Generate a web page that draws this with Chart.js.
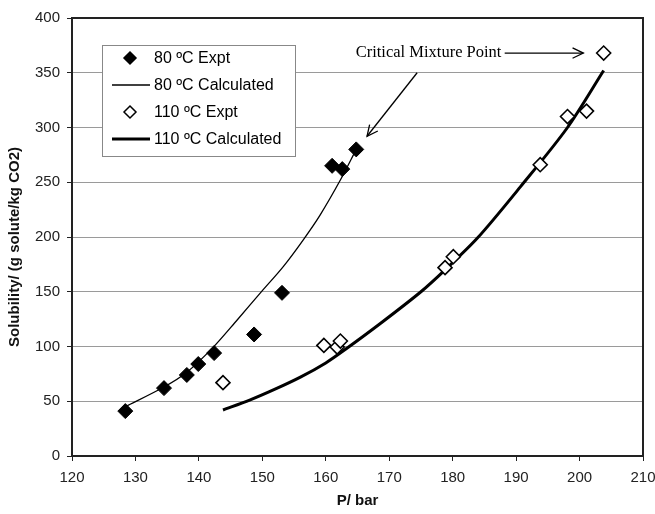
<!DOCTYPE html>
<html>
<head>
<meta charset="utf-8">
<script src="https://cdn.jsdelivr.net/npm/chart.js@4.4.1/dist/chart.umd.min.js"></script>
<style>
  html, body { margin: 0; padding: 0; background: #fff; }
  #wrap { width: 655px; height: 514px; position: relative; }
</style>
</head>
<body>
<div id="wrap"><canvas id="solChart"></canvas></div>
<script>
// P / bar and solubility values
const p80Expt = [128.4, 134.5, 138.1, 139.9, 142.4, 148.7, 153.1, 161.0, 162.6, 164.8];
const s80Expt = [41, 62, 74, 84, 94, 111, 149, 265, 262, 280];

const p80Calc = [128.4, 134.5, 138, 142.2, 146, 150, 153.3, 156.4, 159.1, 162.3, 164.8];
const s80Calc = [45, 63, 76, 99, 124, 151, 173, 197, 220, 252, 280];

const p110Expt = [143.8, 159.7, 161.8, 162.3, 178.8, 180.1, 193.8, 198.1, 201.1, 203.8];
const s110Expt = [67, 101, 99.5, 105, 172, 182, 266, 310, 315, 368];

const p110Calc = [143.8, 148, 152, 156, 160, 163, 168.6, 175, 178.8, 183.9, 190.7, 198.1, 203.8];
const s110Calc = [42, 51, 61, 72, 85, 97, 121, 150, 170, 199, 246, 300, 352];

const seriesNames = ["80 ºC Expt", "80 ºC Calculated", "110 ºC Expt", "110 ºC Calculated"];
const yTitle = "Solubility/ (g solute/kg CO2)";
const xTitle = "P/ bar";

// annotation: label and arrows, in data units
const noteText = "Critical Mixture Point";
const notePos = [176.2, 368];
const noteArrows = [
  [[174.4, 350], [166.5, 292]],
  [[188.2, 368], [200.6, 368]],
];

const toXY = (xs, ys) => xs.map((x, i) => ({ x, y: ys[i] }));

function arrowHead(ctx, x1, y1, x2, y2) {
  const ang = Math.atan2(y2 - y1, x2 - x1);
  const len = 12;
  const spread = 0.45;
  ctx.beginPath();
  ctx.moveTo(x2 - len * Math.cos(ang - spread), y2 - len * Math.sin(ang - spread));
  ctx.lineTo(x2, y2);
  ctx.lineTo(x2 - len * Math.cos(ang + spread), y2 - len * Math.sin(ang + spread));
  ctx.stroke();
}

const extrasPlugin = {
  id: "extras",
  afterDatasetsDraw(chart) {
    const { ctx, chartArea: a, scales } = chart;
    const sx = scales.x, sy = scales.y;
    ctx.save();

    // frame
    ctx.strokeStyle = "#222";
    ctx.lineWidth = 2;
    ctx.strokeRect(a.left, a.top, a.right - a.left, a.bottom - a.top);

    // y title, sits a bit below the middle like the original
    ctx.save();
    ctx.translate(15, (a.top + a.bottom) / 2 + 10);
    ctx.rotate(-Math.PI / 2);
    ctx.fillStyle = "#111";
    ctx.font = "bold 15px 'Liberation Sans', Arial, sans-serif";
    ctx.textAlign = "center";
    ctx.textBaseline = "middle";
    ctx.fillText(yTitle, 0, 0);
    ctx.restore();

    // note
    ctx.fillStyle = "#000";
    ctx.font = "16.5px 'Liberation Serif', 'Times New Roman', serif";
    ctx.textAlign = "center";
    ctx.textBaseline = "middle";
    ctx.fillText(noteText, sx.getPixelForValue(notePos[0]), sy.getPixelForValue(notePos[1]));
    ctx.strokeStyle = "#000";
    ctx.lineWidth = 1.3;
    noteArrows.forEach(([from, to]) => {
      const x1 = sx.getPixelForValue(from[0]), y1 = sy.getPixelForValue(from[1]);
      const x2 = sx.getPixelForValue(to[0]), y2 = sy.getPixelForValue(to[1]);
      ctx.beginPath();
      ctx.moveTo(x1, y1);
      ctx.lineTo(x2, y2);
      ctx.stroke();
      arrowHead(ctx, x1, y1, x2, y2);
    });

    // legend box
    const bx = a.left + 30, by = a.top + 27, bw = 193, bh = 111;
    ctx.fillStyle = "#fff";
    ctx.fillRect(bx, by, bw, bh);
    ctx.strokeStyle = "#888";
    ctx.lineWidth = 1;
    ctx.strokeRect(bx + 0.5, by + 0.5, bw, bh);
    ctx.font = "16px 'Liberation Sans', Arial, sans-serif";
    ctx.textAlign = "left";
    ctx.textBaseline = "middle";
    chart.data.datasets.forEach((ds, i) => {
      const ry = by + 13 + i * 27;
      const mx = bx + 28;
      if (ds.showLine) {
        ctx.strokeStyle = "#000";
        ctx.lineWidth = ds.borderWidth;
        ctx.beginPath();
        ctx.moveTo(bx + 10, ry);
        ctx.lineTo(bx + 48, ry);
        ctx.stroke();
      } else {
        ctx.beginPath();
        ctx.moveTo(mx, ry - 6);
        ctx.lineTo(mx + 6, ry);
        ctx.lineTo(mx, ry + 6);
        ctx.lineTo(mx - 6, ry);
        ctx.closePath();
        ctx.fillStyle = ds.pointBackgroundColor;
        ctx.fill();
        ctx.strokeStyle = "#000";
        ctx.lineWidth = 1.5;
        ctx.stroke();
      }
      ctx.fillStyle = "#000";
      ctx.fillText(ds.label, bx + 52, ry + 1);
    });
    ctx.restore();
  },
};

const tickFont = { family: "'Liberation Sans', Arial, sans-serif", size: 15 };
const titleFont = { family: "'Liberation Sans', Arial, sans-serif", size: 15, weight: "bold" };

const config = {
  type: "scatter",
  data: {
    datasets: [
      {
        label: seriesNames[0],
        data: toXY(p80Expt, s80Expt),
        showLine: false,
        pointStyle: "rectRot",
        pointRadius: 7.5,
        pointBackgroundColor: "#000",
        pointBorderColor: "#000",
        pointBorderWidth: 1,
        order: 1,
      },
      {
        label: seriesNames[1],
        data: toXY(p80Calc, s80Calc),
        showLine: true,
        borderColor: "#000",
        borderWidth: 1.3,
        pointRadius: 0,
        tension: 0.3,
        order: 2,
      },
      {
        label: seriesNames[2],
        data: toXY(p110Expt, s110Expt),
        showLine: false,
        pointStyle: "rectRot",
        pointRadius: 7,
        pointBackgroundColor: "#fff",
        pointBorderColor: "#000",
        pointBorderWidth: 1.6,
        order: 1,
      },
      {
        label: seriesNames[3],
        data: toXY(p110Calc, s110Calc),
        showLine: true,
        borderColor: "#000",
        borderWidth: 3,
        pointRadius: 0,
        tension: 0.3,
        order: 2,
      },
    ],
  },
  options: {
    responsive: true,
    maintainAspectRatio: false,
    animation: false,
    layout: { padding: { top: 18, right: 12, left: 0, bottom: 0 } },
    plugins: {
      legend: { display: false },
      tooltip: { enabled: false },
    },
    scales: {
      x: {
        type: "linear",
        min: 120,
        max: 210,
        afterFit: (s) => {
          s.height = 58;
          s.paddingLeft = 0;
          s.paddingRight = 0;
        },
        ticks: { stepSize: 10, color: "#222", font: tickFont, padding: 8, maxRotation: 0 },
        grid: { drawOnChartArea: false, drawTicks: true, tickLength: 5, tickColor: "#222" },
        border: { display: true, color: "#222", width: 2 },
        title: { display: true, text: xTitle, color: "#111", font: titleFont, padding: { top: 0, bottom: 4 } },
      },
      y: {
        min: 0,
        max: 400,
        afterFit: (s) => {
          s.width = 72;
          s.paddingTop = 0;
          s.paddingBottom = 0;
        },
        ticks: { stepSize: 50, color: "#222", font: tickFont, padding: 7 },
        grid: { color: "#9a9a9a", lineWidth: 1, drawTicks: true, tickLength: 5, tickColor: "#222" },
        border: { display: true, color: "#222", width: 2 },
        title: { display: false },
      },
    },
  },
  plugins: [extrasPlugin],
};

new Chart(document.getElementById("solChart").getContext("2d"), config);
</script>
</body>
</html>
